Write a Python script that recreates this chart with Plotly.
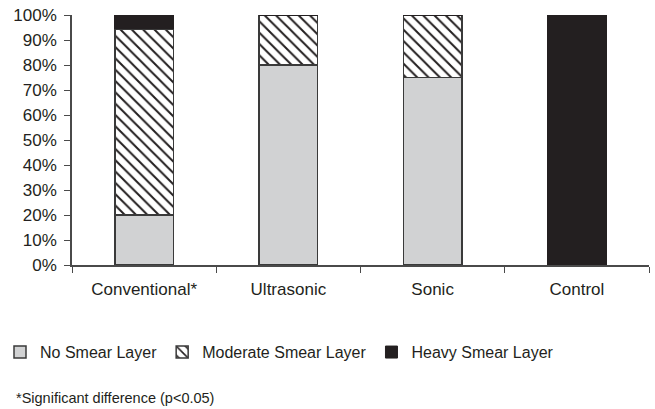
import plotly.graph_objects as go

categories = ["Conventional*", "Ultrasonic", "Sonic", "Control"]
no_smear = [20, 80, 75, 0]
moderate_smear = [74.5, 20, 25, 0]
heavy_smear = [5.5, 0, 0, 100]
y_ticks = list(range(0, 101, 10))

font = "Liberation Sans, Arial, sans-serif"
outline = dict(color="#3a3a3a", width=1.5)

fig = go.Figure()
fig.add_trace(go.Bar(
    x=categories, y=no_smear, name="No Smear Layer",
    marker=dict(color="#d1d2d3", line=outline), width=0.405,
))
fig.add_trace(go.Bar(
    x=categories, y=moderate_smear, name="Moderate Smear Layer",
    marker=dict(color="white", line=outline,
                pattern=dict(shape="\\", fgcolor="#231f20", bgcolor="white",
                             size=8, solidity=0.25, fillmode="replace")),
    width=0.405,
))
fig.add_trace(go.Bar(
    x=categories, y=heavy_smear, name="Heavy Smear Layer",
    marker=dict(color="#231f20", line=dict(color="#231f20", width=1)), width=0.405,
))

fig.update_layout(
    barmode="stack",
    width=655, height=409,
    margin=dict(l=72, r=6, t=15, b=144, autoexpand=False),
    plot_bgcolor="white", paper_bgcolor="white",
    font=dict(family=font, color="#231f20", size=17),
    showlegend=True,
    legend=dict(orientation="h", xref="container", yref="container",
                x=0, xanchor="left", y=0.139, yanchor="middle",
                font=dict(size=16), traceorder="normal",
                itemwidth=30, bgcolor="rgba(0,0,0,0)"),
    annotations=[dict(text="*Significant difference (p<0.05)", xref="paper", yref="paper",
                      x=(14 - 72) / 577, y=(265 - 398) / 250, xanchor="left", yanchor="middle",
                      showarrow=False, font=dict(size=14.5))],
)
fig.update_xaxes(
    showline=True, linecolor="#4a4a4a", linewidth=1.5,
    ticks="outside", tickson="boundaries", ticklen=6, tickcolor="#4a4a4a",
    showgrid=False, tickfont=dict(size=17), ticklabelstandoff=8,
)
fig.update_yaxes(
    range=[0, 100], tickvals=y_ticks, ticktext=[f"{v}%" for v in y_ticks],
    showline=True, linecolor="#4a4a4a", linewidth=1.5,
    ticks="outside", ticklen=6, tickcolor="#4a4a4a",
    showgrid=False, zeroline=False, tickfont=dict(size=17), ticklabelstandoff=4,
)

fig.write_html("out.html", config={"displayModeBar": False},
               post_script="document.body.style.margin='0';document.body.style.overflow='hidden';")
